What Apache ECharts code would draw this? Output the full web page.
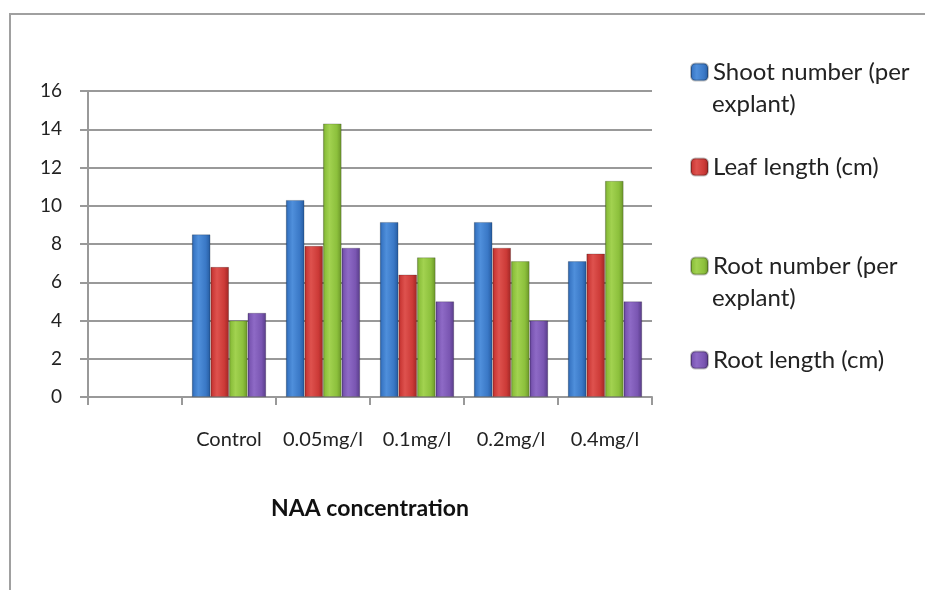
<!DOCTYPE html>
<html>
<head>
<meta charset="utf-8">
<script src="https://cdn.jsdelivr.net/npm/echarts@6/dist/echarts.min.js"></script>
<style>
html,body{margin:0;padding:0;background:#fff;}
#c{width:925px;height:590px;}
</style>
</head>
<body>
<div id="c"></div>
<script>
const categories = ['', 'Control', '0.05mg/l', '0.1mg/l', '0.2mg/l', '0.4mg/l'];
const shootNumber = [null, 8.5, 10.3, 9.15, 9.15, 7.1];
const leafLength  = [null, 6.8, 7.9, 6.4, 7.8, 7.5];
const rootNumber  = [null, 4.0, 14.3, 7.3, 7.1, 11.3];
const rootLength  = [null, 4.4, 7.8, 5.0, 4.0, 5.0];
const seriesNames = ['Shoot number (per explant)', 'Leaf length (cm)', 'Root number (per explant)', 'Root length (cm)'];
const yTicks = [0, 2, 4, 6, 8, 10, 12, 14, 16];

const FONT = 'Lato';

function grad(dark, mid, light) {
  return new echarts.graphic.LinearGradient(0, 0, 1, 0, [
    {offset: 0, color: dark},
    {offset: 0.12, color: mid},
    {offset: 0.35, color: light},
    {offset: 0.75, color: mid},
    {offset: 1, color: dark}
  ]);
}
const colors = [
  grad('#255a9e', '#3a78c6', '#4f8fdb'),
  grad('#9e2624', '#cc3a37', '#de524e'),
  grad('#6a9428', '#8cc03c', '#a2d250'),
  grad('#573b88', '#7a56b2', '#8e6ac6')
];
const seriesData = [shootNumber, leafLength, rootNumber, rootLength];

const chart = echarts.init(document.getElementById('c'), null, {renderer: 'canvas'});

const legendTops = [56, 151, 250, 344];
const legends = seriesNames.map((n, i) => ({
  data: [n],
  orient: 'vertical',
  left: 690,
  top: legendTops[i],
  itemWidth: 17,
  itemHeight: 17,
  itemGap: 0,
  padding: 0,
  selectedMode: false,
  formatter: function (name) {
    return name.replace(' explant)', '');
  },
  textStyle: {fontFamily: FONT, fontSize: 24, lineHeight: 32, color: '#222'}
}));

chart.setOption({
  backgroundColor: '#fff',
  animation: false,
  grid: {left: 88, right: 273, top: 91, bottom: 193, containLabel: false},
  legend: legends,
  graphic: [
    {type: 'rect', shape: {x: 10, y: 14, width: 930, height: 590}, style: {fill: 'none', stroke: '#a0a0a0', lineWidth: 2}, silent: true},
    {type: 'text', x: 712, y: 104, style: {text: 'explant)', fontFamily: FONT, fontSize: 24, fill: '#222', verticalAlign: 'middle'}},
    {type: 'text', x: 712, y: 298, style: {text: 'explant)', fontFamily: FONT, fontSize: 24, fill: '#222', verticalAlign: 'middle'}}
  ],
  xAxis: {
    type: 'category',
    data: categories,
    name: 'NAA concentration',
    nameLocation: 'middle',
    nameGap: 100,
    nameTextStyle: {fontFamily: FONT, fontSize: 23, fontWeight: 'bold', color: '#111'},
    axisLine: {show: true, lineStyle: {color: '#999', width: 2}},
    axisTick: {show: true, length: 8, lineStyle: {color: '#999', width: 2}},
    axisLabel: {fontFamily: FONT, fontSize: 20, color: '#222', margin: 33, interval: 0}
  },
  yAxis: {
    type: 'value',
    min: 0, max: 16, interval: 2,
    axisLine: {show: true, lineStyle: {color: '#999', width: 2}},
    axisTick: {show: true, length: 8, lineStyle: {color: '#999', width: 2}},
    splitLine: {show: true, lineStyle: {color: '#999', width: 2}},
    axisLabel: {fontFamily: FONT, fontSize: 19, color: '#222', margin: 26,
      formatter: v => yTicks.includes(v) ? String(v) : ''}
  },
  series: seriesNames.map((n, i) => ({
    name: n,
    type: 'bar',
    data: seriesData[i],
    barGap: '0%',
    barCategoryGap: '21%',
    itemStyle: {color: colors[i], borderColor: 'rgba(0,0,0,0.25)', borderWidth: 0.8}
  }))
});
</script>
</body>
</html>
